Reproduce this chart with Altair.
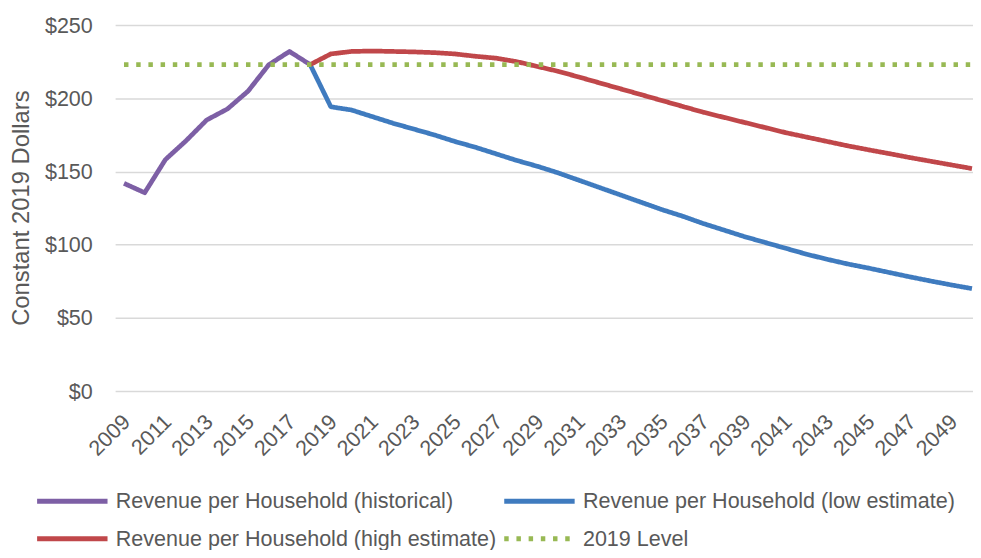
import altair as alt
import pandas as pd

series_names = [
    "Revenue per Household (historical)",
    "Revenue per Household (low estimate)",
    "Revenue per Household (high estimate)",
    "2019 Level",
]
series_colors = ["#7D5FA5", "#3F7BBF", "#C0474A", "#98B954"]

years_hist = list(range(2009, 2019))
hist_values = [141.9, 135.5, 158.1, 171.0, 185.2, 192.7, 204.9, 222.9, 232.0, 223.0]

years_proj = list(range(2018, 2051))
low_values = [223.0, 194.2, 192.0, 187.5, 183.0, 179.0, 175.0, 170.5, 166.5, 162.0,
              157.5, 153.5, 149.0, 144.0, 139.0, 134.0, 129.0, 124.0, 119.5, 114.5,
              110.0, 105.5, 101.5, 97.5, 93.5, 90.0, 86.8, 84.0, 81.0, 78.0,
              75.2, 72.5, 70.0]
high_values = [223.0, 230.3, 232.0, 232.3, 232.0, 231.7, 231.2, 230.3, 228.7, 227.4,
               225.0, 221.7, 218.4, 214.5, 210.5, 206.5, 202.5, 198.5, 194.5, 190.5,
               187.0, 183.5, 180.0, 176.5, 173.5, 170.5, 167.5, 164.8, 162.2, 159.5,
               157.0, 154.5, 152.0]

years_level = list(range(2009, 2051))
level_value = 223.0

x_ticks = list(range(2009, 2050, 2))
y_ticks = [0, 50, 100, 150, 200, 250]

rows = []
for y, v in zip(years_hist, hist_values):
    rows.append({"year": y, "value": v, "series": series_names[0]})
for y, v in zip(years_proj, low_values):
    rows.append({"year": y, "value": v, "series": series_names[1]})
for y, v in zip(years_proj, high_values):
    rows.append({"year": y, "value": v, "series": series_names[2]})
for y in years_level:
    rows.append({"year": y, "value": level_value, "series": series_names[3]})
df = pd.DataFrame(rows)

FONT = "Liberation Sans"
TXT = "#595959"


def make_legend():
    return alt.Legend(title=None, orient="none", direction="horizontal",
                      legendX=-54, legendY=469, columns=2, columnPadding=-3,
                      rowPadding=15, symbolType="M-5,0H5", symbolSize=201.64,
                      symbolStrokeWidth=5, labelOffset=33,
                      labelFontSize=21.7, labelFont=FONT,
                      labelColor=TXT, labelLimit=0, padding=0)


chart = alt.Chart(df).mark_line(strokeWidth=4.75, strokeCap="butt", strokeJoin="round").encode(
    x=alt.X("year:Q",
            scale=alt.Scale(domain=[2008.57, 2050.05], nice=False, zero=False),
            axis=alt.Axis(values=x_ticks, format="d", title=None, grid=False,
                          domain=False, ticks=False, labelAngle=-45,
                          labelAlign="right", labelBaseline="middle",
                          labelPadding=27, labelOffset=2, labelFontSize=21.7,
                          labelColor=TXT, labelFont=FONT, labelOverlap=False)),
    y=alt.Y("value:Q",
            scale=alt.Scale(domain=[0, 250], nice=False),
            axis=alt.Axis(values=y_ticks, title="Constant 2019 Dollars",
                          labelExpr="'$' + datum.value", domain=False, ticks=False,
                          gridColor="#D9D9D9", gridWidth=1.5,
                          labelPadding=23, labelFontSize=21.7, labelColor=TXT,
                          labelFont=FONT, titleFont=FONT, titleFontSize=24,
                          titleColor=TXT, titleFontWeight="normal",
                          titleAngle=-90, titleAlign="center", titleBaseline="middle",
                          titleX=-94, titleY=184)),
    color=alt.Color("series:N",
                    scale=alt.Scale(domain=series_names, range=series_colors),
                    legend=make_legend()),
    strokeDash=alt.StrokeDash("series:N",
                              scale=alt.Scale(domain=series_names,
                                              range=[[1, 0], [1, 0], [1, 0], [4.5, 7.8]]),
                              legend=make_legend()),
).properties(
    width=865,
    height=369,
    autosize=alt.AutoSizeParams(type="none"),
    padding={"left": 108, "top": 15, "right": 0, "bottom": 158},
).configure_view(stroke=None)

chart.save("out.html", embed_options={"renderer": "svg", "actions": False})
